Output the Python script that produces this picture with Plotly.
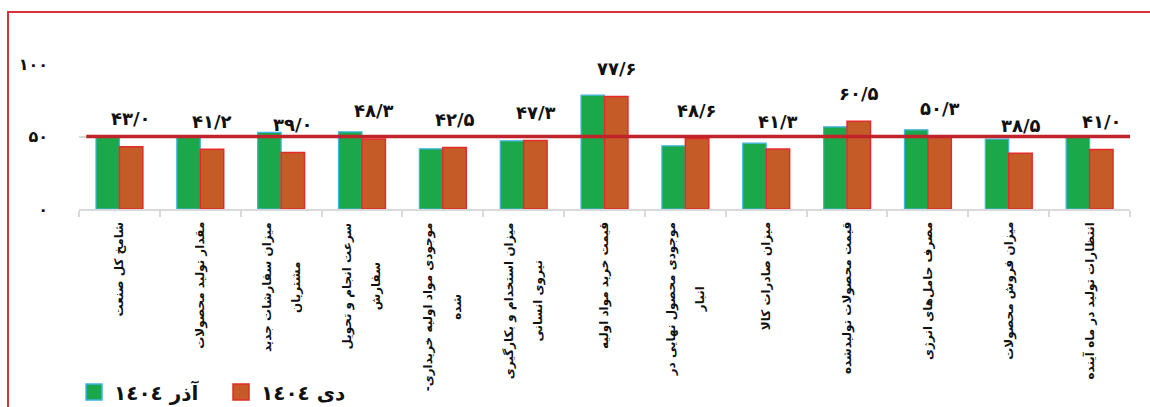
import plotly.graph_objects as go

# Shamekh sub-indices, Azar vs Dey 1404
categories = [
    ["شامخ کل صنعت"],
    ["مقدار تولید محصولات"],
    ["میزان سفارشات جدید", "مشتریان"],
    ["سرعت انجام و تحویل", "سفارش"],
    ["موجودی مواد اولیه خریداری-\u200f", "شده"],
    ["میزان استخدام و بکارگیری", "نیروی انسانی"],
    ["قیمت خرید مواد اولیه"],
    ["موجودی محصول نهایی در", "انبار"],
    ["میزان صادرات کالا"],
    ["قیمت محصولات تولیدشده"],
    ["مصرف حامل‌های انرژی"],
    ["میزان فروش محصولات"],
    ["انتظارات تولید در ماه آینده"],
]
azar_1404 = [49.3, 49.6, 52.8, 53.2, 41.5, 47.0, 78.5, 43.6, 45.4, 56.7, 54.6, 48.2, 49.8]
dey_1404 = [43.0, 41.2, 39.0, 48.3, 42.5, 47.3, 77.6, 48.6, 41.3, 60.5, 50.3, 38.5, 41.0]
series_names = ["آذر ١٤٠٤", "دی ١٤٠٤"]
threshold = 50
y_tick_vals = [0, 50, 100]
y_tick_text = ["۰", "۵۰", "۱۰۰"]

W, H = 1150, 407
ML, MR, MT, MB = 79, 20, 64, 198
PW, PH = W - ML - MR, H - MT - MB

GREEN, GREEN_EDGE = "#1AA84B", "#41B4E4"
ORANGE, ORANGE_EDGE = "#C55B27", "#E52B2A"
LINE_RED = "#C1232B"
FONT = "DejaVu Sans"
INK = "#111111"

fa_digits = str.maketrans("0123456789", "۰۱۲۳۴۵۶۷۸۹")


def fa_number(v):
    return f"{v:.1f}".replace(".", "/").translate(fa_digits)


def paper_x(px):
    return (px - ML) / PW


def paper_y(py):
    return (H - MB - py) / PH


x_idx = list(range(len(categories)))

fig = go.Figure()
fig.add_trace(go.Bar(
    x=x_idx, y=azar_1404, name=series_names[0], showlegend=False,
    marker=dict(color=GREEN, line=dict(color=GREEN_EDGE, width=1.2)),
))
fig.add_trace(go.Bar(
    x=x_idx, y=dey_1404, name=series_names[1], showlegend=False,
    marker=dict(color=ORANGE, line=dict(color=ORANGE_EDGE, width=1.5)),
))

# legend entries with larger square swatches
for name, fill, edge in [(series_names[0], GREEN, GREEN_EDGE), (series_names[1], ORANGE, ORANGE_EDGE)]:
    fig.add_trace(go.Scatter(
        x=[None], y=[None], mode="markers", name=name,
        marker=dict(symbol="square", size=16, color=fill, line=dict(color=edge, width=1.5)),
    ))

# value labels above the Dey bars
for i, v in enumerate(dey_1404):
    fig.add_annotation(
        x=i, y=v, xref="x", yref="y", text=fa_number(v), showarrow=False,
        xshift=12, yshift=28, font=dict(family=FONT, size=18, color=INK, weight="bold"),
    )

# rotated category labels under the axis; the outer font size sets the
# line pitch, the inner span sets the glyph size
for i, lines in enumerate(categories):
    text = "<br>".join(f"<span style='font-size:12px'>{ln}</span>" for ln in lines)
    fig.add_annotation(
        x=i, y=0, xref="x", yref="paper", text=text, showarrow=False,
        textangle=-90, yanchor="top", xanchor="center", yshift=-11, align="center",
        font=dict(family=FONT, size=22, color=INK, weight="bold"),
    )

# 50 threshold line
fig.add_shape(type="line", xref="x", yref="y", x0=-0.41, x1=len(categories) - 0.41,
              y0=threshold, y1=threshold, line=dict(color=LINE_RED, width=3.5), layer="above")

# outer frame
fig.add_shape(type="rect", xref="paper", yref="paper",
              x0=paper_x(8), x1=paper_x(1165), y0=paper_y(420), y1=paper_y(12),
              line=dict(color="#D8313A", width=2), layer="below")

fig.update_layout(
    width=W, height=H,
    margin=dict(l=ML, r=MR, t=MT, b=MB, autoexpand=False),
    paper_bgcolor="white", plot_bgcolor="white",
    barmode="group", bargap=0.42, bargroupgap=0,
    font=dict(family=FONT, color=INK),
    showlegend=True,
    legend=dict(
        orientation="h", xref="container", yref="container",
        x=74 / W, y=1 - 392 / H, xanchor="left", yanchor="middle",
        font=dict(family=FONT, size=20, color=INK, weight="bold"),
        itemwidth=30, tracegroupgap=0, entrywidth=102, entrywidthmode="pixels",
    ),
    xaxis=dict(
        type="linear", range=[-0.5, len(categories) - 0.5],
        showticklabels=False, showgrid=False, zeroline=False,
        showline=True, linecolor="#D9D9D9", linewidth=1.5,
        ticks="outside", ticklen=6, tickcolor="#D9D9D9", tickwidth=1.5,
        tickvals=[i - 0.5 for i in range(len(categories) + 1)],
    ),
    yaxis=dict(
        range=[0, 100], tickvals=y_tick_vals, ticktext=y_tick_text,
        showgrid=True, gridcolor="#D9D9D9", gridwidth=1.5, zeroline=False,
        showline=False, ticks="", ticklabelstandoff=30,
        tickfont=dict(family=FONT, size=16, color=INK, weight="bold"),
    ),
)

fig.write_html("out.html")
